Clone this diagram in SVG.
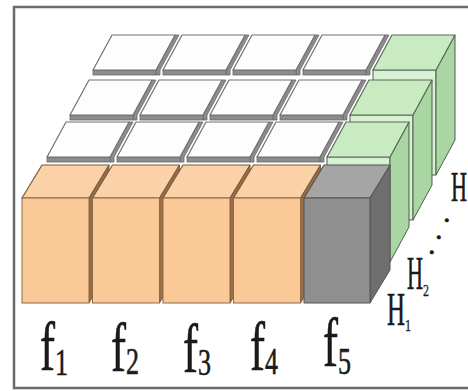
<svg xmlns="http://www.w3.org/2000/svg" xmlns:xlink="http://www.w3.org/1999/xlink" width="468" height="391" viewBox="0 0 468 391">
  <style>
    .tile-top { fill: #fdfdfd; stroke: #707070; stroke-width: 1.2; stroke-linejoin: round; }
    .tile-slab { fill: #8c8c8c; stroke: #6a6a6a; stroke-width: 0.8; }
    .g-front { fill: #d9f1d3; stroke: #4f5f4f; stroke-width: 1; }
    .g-side { fill: #a9d6a3; stroke: #4f5f4f; stroke-width: 1; stroke-linejoin: round; }
    .g-top { fill: #c8ebc2; stroke: #5a6a5a; stroke-width: 1.2; stroke-linejoin: round; }
    .o-front { fill: #fbc898; stroke: #8b6a4a; stroke-width: 1; }
    .o-side { fill: #9b6e45; stroke: #6f4f30; stroke-width: 0.8; }
    .o-top { fill: #fbd1a8; stroke: #7a5a3a; stroke-width: 1.2; stroke-linejoin: round; }
    .k-front { fill: #8f8f8f; stroke: #555; stroke-width: 1; }
    .k-side { fill: #6f6f6f; stroke: #555; stroke-width: 1; stroke-linejoin: round; }
    .k-top { fill: #a5a5a5; stroke: #555; stroke-width: 1.2; stroke-linejoin: round; }
    .lbl { font-family: "Liberation Serif", "Times New Roman", serif; fill: #1a1a1a; stroke: #1a1a1a; stroke-width: 0.6; }
  </style>
  <defs>
    <g id="tile">
      <polygon class="tile-slab" points="63,0 82,-35 86,-35 67,0 67,5 63,5"/>
      <rect class="tile-slab" x="0" y="0" width="63" height="5"/>
      <polygon class="tile-top" points="0,0 63,0 82,-35 19,-35"/>
    </g>
    <g id="gcube">
      <rect class="g-front" x="0" y="0" width="63" height="105"/>
      <polygon class="g-side" points="63,0 82,-35 82,70 63,105"/>
      <polygon class="g-top" points="0,0 63,0 82,-35 19,-35"/>
    </g>
    <g id="obox">
      <polygon class="o-side" points="67,0 87,-33 87,72 67,105"/>
      <polygon class="o-top" points="0,0 67,0 87,-33 20,-33"/>
      <rect class="o-front" x="0" y="0" width="67" height="105"/>
    </g>
  </defs>

  <rect id="frame" x="14" y="7" width="470" height="381" fill="#ffffff" stroke="#6a6a6a" stroke-width="2.5"/>

  <g id="row3">
    <g id="t31"><use xlink:href="#tile" x="93" y="70"/></g>
    <g id="t32"><use xlink:href="#tile" x="163" y="70"/></g>
    <g id="t33"><use xlink:href="#tile" x="233" y="70"/></g>
    <g id="t34"><use xlink:href="#tile" x="303" y="70"/></g>
    <g id="g3"><use xlink:href="#gcube" x="373" y="70"/></g>
  </g>
  <g id="row2">
    <g id="t21"><use xlink:href="#tile" x="70" y="115"/></g>
    <g id="t22"><use xlink:href="#tile" x="140" y="115"/></g>
    <g id="t23"><use xlink:href="#tile" x="210" y="115"/></g>
    <g id="t24"><use xlink:href="#tile" x="280" y="115"/></g>
    <g id="g2"><use xlink:href="#gcube" x="350" y="115"/></g>
  </g>
  <g id="row1">
    <g id="t11"><use xlink:href="#tile" x="47" y="157"/></g>
    <g id="t12"><use xlink:href="#tile" x="117" y="157"/></g>
    <g id="t13"><use xlink:href="#tile" x="187" y="157"/></g>
    <g id="t14"><use xlink:href="#tile" x="257" y="157"/></g>
    <g id="g1"><use xlink:href="#gcube" x="327" y="157"/></g>
  </g>
  <g id="row0">
    <g id="o1"><use xlink:href="#obox" x="22" y="198"/></g>
    <g id="o2"><use xlink:href="#obox" x="92.5" y="198"/></g>
    <g id="o3"><use xlink:href="#obox" x="163" y="198"/></g>
    <g id="o4"><use xlink:href="#obox" x="233.5" y="198"/></g>
    <g id="k5">
      <polygon class="k-side" points="370,198 390,165 390,270 370,303"/>
      <polygon class="k-top" points="304,198 370,198 390,165 324,165"/>
      <rect class="k-front" x="304" y="198" width="66" height="105"/>
    </g>
  </g>

  <g id="connectors"></g>

  <g id="labels-f" class="lbl">
    <text x="40" y="370" font-size="69" textLength="15" lengthAdjust="spacingAndGlyphs">f</text>
    <text x="55" y="375" font-size="37" textLength="13" lengthAdjust="spacingAndGlyphs">1</text>
    <text x="111" y="371" font-size="69" textLength="15" lengthAdjust="spacingAndGlyphs">f</text>
    <text x="126" y="374" font-size="37" textLength="13" lengthAdjust="spacingAndGlyphs">2</text>
    <text x="183" y="372" font-size="69" textLength="15" lengthAdjust="spacingAndGlyphs">f</text>
    <text x="198" y="375" font-size="37" textLength="13" lengthAdjust="spacingAndGlyphs">3</text>
    <text x="250" y="370" font-size="69" textLength="15" lengthAdjust="spacingAndGlyphs">f</text>
    <text x="265" y="374" font-size="37" textLength="13" lengthAdjust="spacingAndGlyphs">4</text>
    <text x="323" y="366" font-size="69" textLength="15" lengthAdjust="spacingAndGlyphs">f</text>
    <text x="338" y="374" font-size="37" textLength="13" lengthAdjust="spacingAndGlyphs">5</text>
  </g>
  <g id="labels-h" class="lbl">
    <text x="387" y="325" font-size="46" textLength="18" lengthAdjust="spacingAndGlyphs">H</text>
    <text x="405" y="331" font-size="17" textLength="6" lengthAdjust="spacingAndGlyphs" stroke-width="0.3">1</text>
    <text x="407" y="289" font-size="46" textLength="16" lengthAdjust="spacingAndGlyphs">H</text>
    <text x="423" y="296" font-size="17" textLength="6" lengthAdjust="spacingAndGlyphs" stroke-width="0.3">2</text>
    <text x="428" y="254" font-size="30">.</text>
    <text x="435" y="239" font-size="30">.</text>
    <text x="443" y="222" font-size="30">.</text>
    <text x="451" y="201" font-size="42" textLength="16" lengthAdjust="spacingAndGlyphs">H</text>
  </g>
</svg>
